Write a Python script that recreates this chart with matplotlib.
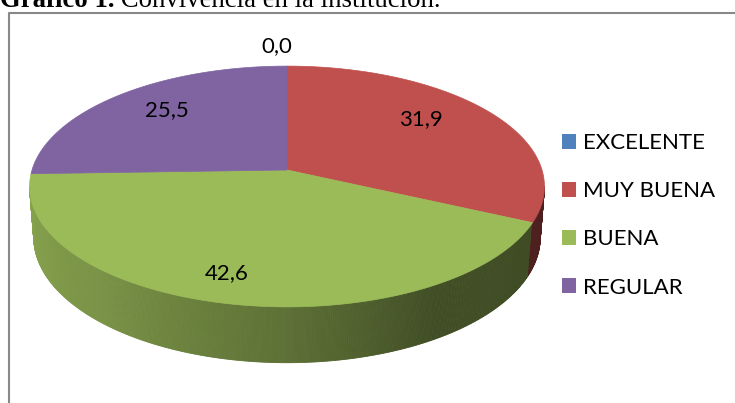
import numpy as np
import matplotlib
matplotlib.use("Agg")
import matplotlib.pyplot as plt
from matplotlib.patches import Polygon, Patch

# data
categories = ['EXCELENTE', 'MUY BUENA', 'BUENA', 'REGULAR']
values = [0.0, 31.9, 42.6, 25.5]
colors = ['#4F81BD', '#C0504D', '#9BBB59', '#8064A2']
title_bold = 'Gráfico 1.'
title_rest = ' Convivencia en la institución.'

# layout of the 3d pie (pixels)
W, H = 735, 403
CX, CY, K = 287, 170, 255
TILT = np.radians(27.6)
PERSP = 0.137
DEPTH = 0.227
# label placement: radius and angle tweak per slice (Excel style best fit)
label_r = [1.22, 0.72, 0.81, 0.74]
label_shift = [2.2, 6.7, -3.5, -2.8]


def project(phi, z, r=1.0):
    x = r * np.cos(phi)
    yb = r * np.sin(phi)
    v = yb * np.sin(TILT) + z * np.cos(TILT)
    w = yb * np.cos(TILT) - z * np.sin(TILT)
    s = 1.0 / (1.0 + w * PERSP / np.cos(TILT))
    return CX + K * x * s, CY - K * v * s


def shade(c, f):
    rgb = np.array(matplotlib.colors.to_rgb(c))
    return tuple(rgb * f)


fig = plt.figure(figsize=(W / 100, H / 100), dpi=100)
ax = fig.add_axes([0, 0, 1, 1])
ax.set_xlim(0, W)
ax.set_ylim(H, 0)
ax.axis('off')

total = sum(values)
cum = np.concatenate([[0], np.cumsum(values)]) / total
starts = 90 - 360 * cum[:-1]
ends = 90 - 360 * cum[1:]

# side of the pie, drawn in thin strips so it can be shaded
phis = np.linspace(-172.1, -7.9, 400)
for a, b in zip(phis[:-1], phis[1:]):
    mid = (a + b) / 2
    frac = ((90 - mid) % 360) / 360
    idx = np.searchsorted(cum[1:], frac)
    idx = min(idx, len(values) - 1)
    f = np.interp(mid, [-172, -130, -90, -60, -8], [0.88, 0.78, 0.6, 0.42, 0.40])
    col = shade(colors[idx], f)
    ra, rb = np.radians(a), np.radians(b)
    pts = [project(ra, 0), project(rb, 0), project(rb, -DEPTH), project(ra, -DEPTH)]
    ax.add_patch(Polygon(pts, closed=True, facecolor=col, edgecolor=col, lw=0.6))

# top face
for v, c, a0, a1 in zip(values, colors, starts, ends):
    if v == 0:
        continue
    t = np.radians(np.linspace(a0, a1, 200))
    xs, ys = project(t, 0)
    pts = [(CX, CY)] + list(zip(xs, ys))
    ax.add_patch(Polygon(pts, closed=True, facecolor=c, edgecolor=c, lw=0.5))

# data labels
for v, a0, a1, r, sh in zip(values, starts, ends, label_r, label_shift):
    mid = np.radians((a0 + a1) / 2 + sh)
    x, y = project(mid, 0, r)
    ax.text(x, y, f'{v:.1f}'.replace('.', ','), ha='center', va='center',
            fontsize=16, family='Lato', color='black')

# chart frame
ax.plot([9, 9, W], [H, 13, 13], color='#888888', lw=1.5, solid_capstyle='butt')

# legend
handles = [Patch(facecolor=c, edgecolor='none', label=l) for c, l in zip(colors, categories)]
ax.legend(handles=handles, loc='upper left', bbox_to_anchor=(562 / W, 1 - 133 / H),
          frameon=False, prop={'family': 'Lato', 'size': 16},
          handlelength=0.65, handleheight=0.65, handletextpad=0.3,
          labelspacing=1.27, borderpad=0, borderaxespad=0)

# title, partly cut at the top like the source
t1 = ax.text(0, 7, title_bold, fontsize=19.3, family='Liberation Serif',
             fontweight='bold', va='baseline', ha='left')
ax.annotate(title_rest, xy=(1, 7), xycoords=(t1, 'data'), fontsize=19.3,
            family='Liberation Serif', va='baseline', ha='left')

fig.savefig('out.png', dpi=100)
